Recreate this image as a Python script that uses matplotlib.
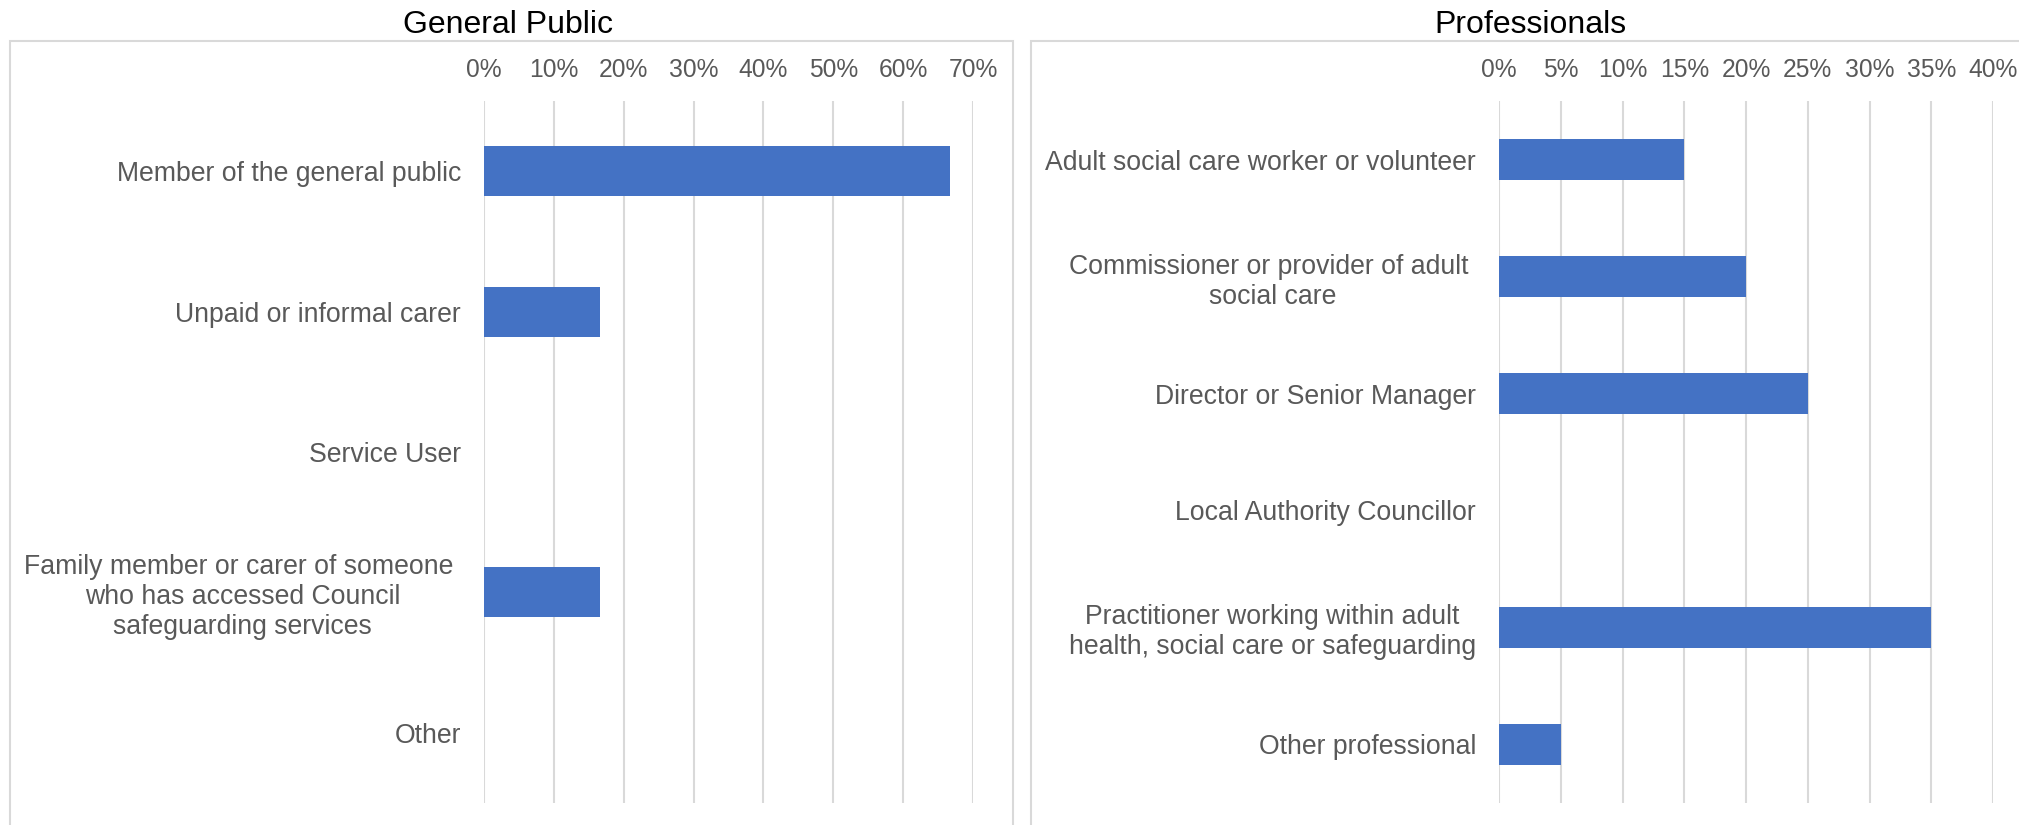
import numpy as np
import matplotlib
matplotlib.use("Agg")
import matplotlib.pyplot as plt
from matplotlib.patches import Rectangle
from matplotlib.ticker import PercentFormatter, MultipleLocator

plt.rcParams['font.family'] = ['Liberation Sans', 'DejaVu Sans']

# data (shares of respondents)
public_cats = ["Member of the general public",
               "Unpaid or informal carer",
               "Service User",
               "Family member or carer of someone \nwho has accessed Council\nsafeguarding services",
               "Other"]
public_vals = [0.6667, 0.1667, 0.0, 0.1667, 0.0]

prof_cats = ["Adult social care worker or volunteer",
             "Commissioner or provider of adult \nsocial care",
             "Director or Senior Manager",
             "Local Authority Councillor",
             "Practitioner working within adult\nhealth, social care or safeguarding",
             "Other professional"]
prof_vals = [0.15, 0.20, 0.25, 0.0, 0.35, 0.05]

bar_col = '#4472C4'
grid_col = '#D9D9D9'
txt_col = '#595959'

W, H = 2019, 825
fig = plt.figure(figsize=(W / 100, H / 100), dpi=100)

# chart frames (grey borders)
fig.patches.append(Rectangle((10 / W, -0.05), 1003 / W, 1.05 - 41 / H, transform=fig.transFigure,
                             fill=False, edgecolor=grid_col, linewidth=1.5))
fig.patches.append(Rectangle((1031 / W, -0.05), 1003 / W, 1.05 - 41 / H, transform=fig.transFigure,
                             fill=False, edgecolor=grid_col, linewidth=1.5))


def draw_panel(rect, cats, vals, xmax, step, title, title_x):
    ax = fig.add_axes(rect)
    y = np.arange(len(cats))
    ax.barh(y, vals, height=0.356, color=bar_col, zorder=3)
    ax.set_xlim(0, xmax)
    ax.set_ylim(len(cats) - 0.5, -0.5)
    ax.xaxis.set_major_locator(MultipleLocator(step))
    ax.xaxis.set_major_formatter(PercentFormatter(1.0, decimals=0))
    ax.xaxis.tick_top()
    ax.grid(axis='x', color=grid_col, linewidth=1.5, zorder=0)
    ax.set_yticks(y)
    ax.set_yticklabels(cats, multialignment='center')
    ax.tick_params(axis='x', length=0, pad=14, labelsize=17.7, labelcolor=txt_col)
    ax.tick_params(axis='y', length=0, pad=16.5, labelsize=19.2, labelcolor=txt_col)
    for s in ax.spines.values():
        s.set_visible(False)
    fig.text(title_x / W, 1 - 25 / H, title, ha='center', va='center', fontsize=23, color='black')
    return ax


ax1 = draw_panel([484 / W, 1 - 803 / H, (973 - 484) / W, 702 / H],
                 public_cats, public_vals, 0.70, 0.10, "General Public", 508)
ax2 = draw_panel([1499 / W, 1 - 803 / H, (1993 - 1499) / W, 702 / H],
                 prof_cats, prof_vals, 0.40, 0.05, "Professionals", 1530)

fig.savefig("out.png", dpi=100)
